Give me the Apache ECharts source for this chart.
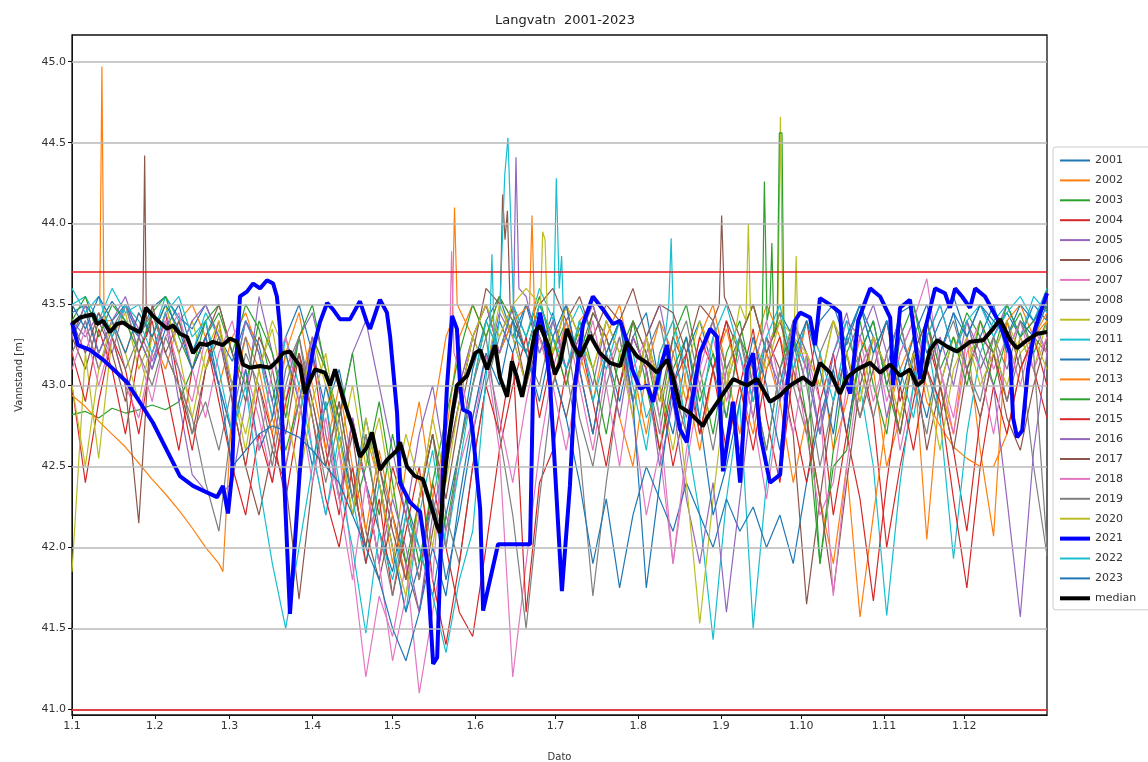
<!DOCTYPE html>
<html>
<head>
<meta charset="utf-8">
<title>Langvatn 2001-2023</title>
<script src="https://cdn.jsdelivr.net/npm/echarts@6/dist/echarts.min.js"></script>
<style>
  html, body { margin: 0; padding: 0; background: #fff; }
  #chart { width: 1148px; height: 762px; }
</style>
</head>
<body>
<div id="chart"></div>
<script>
// day of year (0 = 1 Jan), sampled every 5 days
const days = [0,5,10,15,20,25,30,35,40,45,50,55,60,65,70,75,80,85,90,95,
  100,105,110,115,120,125,130,135,140,145,150,155,160,165,170,175,180,185,190,195,
  200,205,210,215,220,225,230,235,240,245,250,255,260,265,270,275,280,285,290,295,
  300,305,310,315,320,325,330,335,340,345,350,355,360,365];

const years = ['2001','2002','2003','2004','2005','2006','2007','2008','2009','2011','2012',
  '2013','2014','2015','2016','2017','2018','2019','2020','2021','2022','2023'];

const monthStarts = [0,31,59,90,120,151,181,212,243,273,304,334];
const monthLabels = ['1.1','1.2','1.3','1.4','1.5','1.6','1.7','1.8','1.9','1.10','1.11','1.12'];
const yTicks = [41.0,41.5,42.0,42.5,43.0,43.5,44.0,44.5,45.0];
const limitLines = [43.7, 41.0];

const y2001 = [43.45,43.5,43.38,43.52,43.4,43.3,43.48,43.55,43.42,43.35,
  43.5,43.3,43.15,43.4,43.25,42.9,43.3,43.5,43.2,42.85,
  43.1,42.7,42.4,42.1,41.85,42.3,42.0,41.7,42.2,42.6,
  43.1,43.4,43.55,43.3,43.5,43.2,43.45,43.1,43.35,43.5,
  43.2,42.9,43.3,43.45,43.0,42.7,43.2,43.4,43.1,42.8,
  43.3,43.5,43.2,43.45,43.3,43.0,43.4,43.5,43.25,43.5,
  43.3,43.1,43.45,43.5,43.2,43.4,43.55,43.3,43.5,43.35,
  43.45,43.3,43.5,43.4];
const y2002 = [43.3,43.5,43.35,43.4,43.2,43.45,43.3,43.1,43.4,43.5,
  43.3,43.0,43.3,43.45,43.2,42.8,42.5,43.0,43.3,43.1,
  42.6,42.2,42.7,42.4,41.9,42.5,42.9,42.3,42.7,43.3,
  43.5,43.3,43.55,43.4,43.2,43.5,43.3,43.0,43.4,43.5,
  43.2,42.8,42.5,43.1,43.4,43.2,42.9,43.3,43.5,43.1,
  42.7,43.2,43.5,43.3,43.0,43.4,43.2,42.6,42.9,43.3,
  43.1,42.5,42.8,43.2,42.05,43.0,42.7,43.3,42.6,42.07,
  43.4,43.5,43.3,43.45];
const y2003 = [42.82,42.84,42.8,42.86,42.83,42.85,42.88,42.85,42.9,43.1,
  43.3,43.45,43.2,43.5,43.35,43.0,42.6,42.9,43.3,43.1,
  42.7,42.2,42.5,42.9,42.4,41.9,42.3,42.7,42.1,42.6,
  43.0,43.4,43.2,43.5,43.3,43.55,43.2,43.4,43.1,43.45,
  43.3,43.0,43.4,43.2,42.8,43.3,43.5,43.1,42.7,43.2,
  43.4,43.0,42.6,43.1,43.4,43.2,41.9,42.6,43.2,43.4,
  43.0,42.7,43.3,43.5,43.1,42.8,43.2,43.45,43.3,43.0,
  43.3,43.45,43.2,43.4];
const y2004 = [43.0,42.4,42.9,43.3,43.1,42.7,43.2,43.45,43.0,42.6,
  43.1,43.4,42.9,42.5,43.0,42.7,42.3,42.8,43.2,42.6,
  42.2,42.8,42.4,41.9,42.5,42.2,41.8,42.4,42.0,41.6,
  41.45,42.0,42.6,43.0,43.3,42.8,43.2,43.5,43.1,42.7,
  43.2,43.4,42.9,43.3,43.0,42.5,42.9,43.3,43.1,42.6,
  43.0,43.35,42.8,42.4,43.1,43.4,42.9,42.2,42.7,43.2,
  42.8,42.0,42.5,42.9,43.3,43.0,42.6,42.1,42.8,43.2,
  42.9,43.3,43.1,42.8];
const y2005 = [43.4,43.3,43.45,43.2,43.5,43.35,43.15,43.4,42.9,42.45,
  42.35,42.32,42.4,42.9,43.55,43.2,42.9,43.3,43.45,43.1,
  42.8,43.2,43.4,43.0,42.6,42.2,42.7,43.0,42.5,42.9,
  43.3,43.1,43.45,43.3,43.0,43.4,43.2,43.5,43.3,43.0,
  43.4,43.2,42.9,43.3,43.5,43.1,42.8,43.2,43.4,43.0,
  43.3,43.5,43.2,43.0,43.4,43.2,42.7,43.1,43.4,43.3,
  43.5,43.2,43.4,43.0,43.3,43.5,43.2,43.4,43.1,43.3,
  43.5,43.3,43.4,43.2];
const y2006 = [43.3,43.1,43.4,43.2,42.9,43.3,43.45,43.2,43.0,42.7,
  43.1,43.3,42.9,42.5,42.2,42.6,42.4,41.68,42.4,42.9,
  42.3,42.7,42.1,41.8,42.2,41.9,41.6,42.1,42.5,42.9,
  43.3,43.5,43.2,43.4,43.0,43.3,43.1,42.8,43.2,43.45,
  43.3,43.0,43.4,43.2,42.9,43.3,43.1,42.7,43.1,43.4,
  43.2,42.8,43.3,43.1,42.7,41.65,42.3,42.9,43.2,42.8,
  43.1,43.4,42.9,43.2,42.6,43.0,43.3,43.1,42.8,43.2,
  43.4,43.1,43.3,43.2];
const y2007 = [43.2,43.4,43.1,43.3,43.0,42.8,43.2,43.4,43.1,42.9,
  43.3,43.0,42.7,43.1,42.8,42.4,42.9,43.2,42.6,42.2,
  42.6,41.9,41.2,41.7,41.45,41.9,41.1,41.6,42.1,42.5,
  42.8,43.2,42.6,41.2,41.9,42.6,43.1,43.4,43.0,42.6,
  43.1,43.3,42.8,42.2,42.6,41.9,42.5,43.0,43.3,42.9,
  43.2,42.8,42.3,42.9,43.2,42.7,42.2,42.4,43.0,43.3,
  42.9,43.2,42.6,43.0,43.4,43.1,42.7,43.2,43.4,43.1,
  43.3,43.0,43.35,43.2];
const y2008 = [43.3,43.5,43.2,43.4,43.1,43.3,43.45,43.2,43.0,42.8,
  42.4,42.1,42.8,43.2,43.0,42.6,43.1,43.3,42.9,42.5,
  42.9,42.4,42.0,42.5,42.2,41.8,42.3,42.7,42.2,41.9,
  42.5,43.0,43.3,43.5,43.2,43.0,43.4,43.1,42.6,41.7,
  42.4,43.0,43.3,43.1,42.7,43.2,43.4,43.0,42.6,43.1,
  43.3,42.9,43.2,43.45,43.0,42.7,43.2,43.4,43.1,42.8,
  43.2,43.4,43.0,43.3,43.1,42.8,43.2,43.4,43.1,43.3,
  42.9,43.2,42.5,41.95];
const y2009 = [41.85,43.2,42.55,43.3,43.45,43.1,43.3,43.5,43.2,43.4,
  43.1,43.35,43.0,42.7,43.1,43.4,43.2,42.8,43.3,43.0,
  42.6,43.0,42.5,42.8,42.3,42.7,42.4,42.0,42.6,43.0,
  43.3,43.1,43.5,43.3,43.0,43.4,43.2,43.5,43.3,43.1,
  43.4,43.2,42.9,43.3,43.0,42.6,43.1,43.4,43.2,43.0,
  43.3,43.5,43.2,42.9,43.3,43.2,43.0,43.4,43.2,42.9,
  43.3,43.1,42.8,43.2,43.4,43.0,43.3,43.1,43.4,43.2,
  43.0,43.3,43.1,43.4];
const y2011 = [43.5,43.55,43.4,43.6,43.45,43.5,43.3,43.55,43.4,43.2,
  43.45,43.3,43.0,43.4,43.2,42.8,43.3,43.0,42.6,42.2,
  42.7,42.3,41.9,42.4,42.0,41.6,42.2,42.6,42.0,42.5,
  43.0,43.4,43.2,43.5,43.3,43.6,43.4,43.2,43.5,43.3,
  43.1,43.4,43.2,42.8,43.0,43.6,42.7,42.2,41.43,42.3,
  42.9,41.5,42.4,43.0,43.3,43.1,42.7,43.2,43.4,43.0,
  42.5,41.58,42.4,43.0,43.3,42.8,41.93,42.7,43.2,43.4,
  43.5,43.3,43.55,43.45];
const y2012 = [43.3,43.45,43.2,43.4,43.5,43.3,43.1,43.35,43.5,43.2,
  43.4,43.0,42.7,43.1,42.6,42.8,43.2,42.9,42.5,43.0,
  42.7,42.3,42.8,42.4,42.0,41.6,41.9,42.3,41.8,42.2,
  42.7,43.1,43.4,43.2,43.5,43.3,43.1,42.8,42.4,41.9,
  42.3,41.75,42.2,42.5,42.3,42.1,42.4,42.2,42.0,42.3,
  42.1,42.25,42.0,42.2,41.9,42.4,42.8,43.1,42.7,43.2,
  43.4,43.0,43.3,43.1,42.8,43.2,43.45,43.1,43.3,43.5,
  43.2,43.4,43.3,43.5];
const y2013 = [42.94,42.87,42.78,42.7,42.62,42.52,42.42,42.33,42.23,42.12,
  42.0,41.9,42.9,43.3,43.1,42.7,43.2,43.45,43.0,42.6,
  43.0,42.5,42.1,42.6,42.2,41.8,42.3,42.8,43.3,43.5,
  43.3,43.5,43.2,43.4,43.55,43.3,43.0,43.4,43.2,42.9,
  43.3,43.5,43.1,42.7,43.2,43.4,43.0,42.6,43.1,43.35,
  43.0,42.7,43.2,42.9,42.4,42.8,42.3,41.9,42.5,41.57,
  42.2,42.8,43.1,43.3,42.9,42.75,42.62,42.55,42.5,42.5,
  42.7,43.1,43.3,43.4];
const y2014 = [43.4,43.55,43.3,43.5,43.4,43.2,43.45,43.55,43.3,43.1,
  43.4,43.5,43.2,43.0,43.4,43.2,42.8,43.3,43.5,43.1,
  42.8,43.2,42.6,42.2,42.7,42.3,41.9,42.4,42.8,43.2,
  43.5,43.3,43.55,43.4,43.2,43.5,43.3,43.0,43.4,43.1,
  42.7,43.2,43.4,43.0,42.6,43.1,43.3,42.9,43.2,42.8,
  43.3,43.1,43.4,43.2,43.3,42.8,41.9,42.5,42.6,43.2,
  43.4,43.0,42.7,43.2,43.4,43.1,43.3,43.0,43.4,43.2,
  43.5,43.3,43.4,43.5];
const y2015 = [43.2,42.9,43.35,43.1,42.7,43.2,43.4,43.0,42.6,43.1,
  43.3,42.9,42.5,42.2,42.7,42.4,42.9,43.2,42.8,42.3,
  42.0,42.5,41.9,42.3,41.7,42.1,42.5,41.8,41.4,41.9,
  42.5,43.0,42.7,43.2,41.6,42.4,42.6,43.1,43.3,42.9,
  42.5,43.0,43.3,43.1,42.6,43.0,43.2,42.7,43.1,43.4,
  43.0,42.6,43.1,43.3,42.8,42.4,42.9,43.2,42.7,42.3,
  41.67,42.4,43.0,42.6,43.1,42.9,42.3,41.75,42.5,43.0,
  42.7,43.1,43.3,43.0];
const y2016 = [43.3,43.5,43.2,43.4,43.55,43.3,43.1,43.45,43.2,43.4,
  43.5,43.3,43.0,43.4,43.2,42.9,42.5,42.9,43.3,42.7,
  42.3,42.8,42.4,41.9,42.3,42.0,41.6,42.2,42.6,43.0,
  43.3,43.5,43.2,43.4,43.55,43.2,43.4,43.1,43.3,43.5,
  43.2,42.8,43.3,43.1,42.5,42.9,42.3,41.9,42.4,41.6,
  42.3,43.0,43.3,42.9,43.4,43.1,42.7,43.2,43.45,43.1,
  43.3,42.8,43.2,43.4,43.1,43.3,43.0,43.4,43.2,43.0,
  42.3,41.57,42.6,43.2];
const y2017 = [43.4,43.2,43.45,43.3,43.0,42.15,43.5,43.2,43.4,43.1,
  43.3,43.5,43.2,42.9,43.3,43.1,42.7,43.2,42.9,42.5,
  42.9,42.4,42.0,42.5,42.1,41.8,42.3,42.7,42.3,42.8,
  43.2,43.6,43.3,43.5,43.2,43.5,43.6,43.4,43.55,43.3,
  43.5,43.4,43.6,43.3,43.5,43.45,43.2,43.5,43.4,43.6,
  43.3,43.5,43.2,43.4,43.1,42.8,42.3,41.72,42.4,43.0,
  43.3,43.1,42.7,43.2,43.4,43.0,42.6,43.1,43.3,43.2,
  42.8,42.6,43.0,43.3];
const y2018 = [43.1,43.35,43.0,43.3,43.5,43.2,42.9,43.3,43.45,43.1,
  42.8,43.2,43.4,43.0,42.6,43.1,43.3,42.9,42.4,42.8,
  42.3,41.8,42.4,41.9,41.3,41.7,42.2,41.8,42.8,43.1,
  42.7,43.2,42.8,42.4,42.9,43.3,43.0,42.6,43.1,43.4,
  43.0,42.5,43.1,43.3,42.8,41.9,42.6,43.1,43.4,43.0,
  42.6,43.1,43.4,43.0,42.7,43.2,42.9,41.7,42.5,43.1,
  43.3,42.9,43.2,43.4,43.66,43.1,42.8,43.3,43.1,42.7,
  43.2,43.4,43.1,43.3];
const y2019 = [43.2,43.4,43.1,43.35,43.5,43.2,43.0,43.3,43.1,42.7,
  42.9,42.6,43.0,43.3,42.9,42.5,43.0,43.3,42.8,42.4,
  42.8,42.3,42.7,42.1,41.7,42.2,41.8,42.3,42.0,42.6,
  43.0,43.3,42.7,42.2,41.5,42.3,43.0,43.3,42.8,42.5,
  43.0,43.3,42.9,43.2,43.4,43.0,42.7,43.2,43.4,43.1,
  43.3,43.0,42.6,43.1,43.3,43.0,42.5,42.9,43.3,43.1,
  42.8,43.2,43.4,43.0,42.7,43.2,43.4,43.1,42.9,43.3,
  43.1,43.4,43.2,42.0];
const y2020 = [43.0,42.5,43.1,43.4,43.2,42.9,43.3,43.5,43.2,42.8,
  43.2,43.4,43.0,42.6,43.1,43.35,42.9,42.4,42.9,43.2,
  42.7,42.2,42.8,42.4,42.0,41.7,42.3,42.8,42.4,42.9,
  43.3,43.5,43.3,43.5,43.6,43.4,43.2,43.5,43.3,43.1,
  43.4,43.2,42.8,43.3,42.9,43.1,42.4,41.53,42.3,43.0,
  43.5,43.3,43.1,43.4,43.5,43.2,43.0,43.4,43.2,42.9,
  43.3,43.1,42.8,43.2,43.0,42.6,43.1,43.3,43.0,43.2,
  43.4,43.2,43.3,43.1];
const y2022 = [43.6,43.45,43.55,43.3,43.5,43.4,43.2,43.45,43.55,43.3,
  43.4,43.1,42.7,43.0,42.4,41.9,41.5,42.0,42.5,42.9,
  42.4,42.0,41.47,42.1,41.8,42.2,42.0,41.7,41.35,41.8,
  42.1,43.0,43.3,43.4,43.2,43.5,43.3,43.1,43.4,42.9,
  43.2,43.4,43.0,42.6,43.2,43.4,43.1,42.8,43.3,43.5,
  43.2,42.9,43.3,43.5,43.1,43.4,43.2,42.9,43.3,43.5,
  43.2,43.4,43.1,42.8,43.3,43.5,43.2,43.4,43.5,43.3,
  43.45,43.55,43.4,43.6];
const y2023 = [43.5,43.35,43.55,43.4,43.2,43.45,43.3,43.5,43.35,43.1,
  43.3,43.0,42.5,42.6,42.7,42.75,42.72,42.68,42.6,42.5,
  42.4,42.2,42.0,41.8,41.5,41.3,41.6,42.0,41.7,42.3,
  42.8,43.2,43.0,43.4,43.2,42.9,43.3,43.5,43.1,42.7,
  43.2,43.4,42.9,41.75,42.4,43.0,43.3,42.8,42.2,42.5,
  42.9,43.3,43.0,42.6,43.2,43.4,43.1,42.7,43.3,43.5,
  43.2,43.4,43.0,43.3,43.5,43.2,43.45,43.3,43.5,43.4,
  43.3,43.5,43.4,43.55];

// short spikes / dips between the 5-day samples: [day, level]
const extra2002 = [[10.4,43.5],[11.2,44.97],[12.0,43.4]];
const extra2006 = [[26.5,43.4],[27.2,44.42],[27.9,43.3]];
const extra2009 = [[264.2,43.4],[265.2,44.66],[266.2,43.3]];
const extra2011 = [[180.3,43.4],[181.3,44.28],[182.4,43.6],[183.3,43.8],[184.2,43.3],
  [223.4,43.5],[224.3,43.91],[225.3,43.3]];
const extra2013 = [[56.5,41.85],[142.3,43.4],[143.2,44.1],[144.2,43.5],
  [171.3,43.5],[172.2,44.05],[173.2,43.4]];
const extra2014 = [[258.3,43.3],[259.2,44.26],[260.2,43.4],[261.3,43.5],[262.0,43.88],[262.8,43.3],
  [264.0,43.4],[264.8,44.56],[265.8,44.56],[266.6,43.2]];
const extra2016 = [[165.3,43.5],[166.2,44.41],[167.3,43.6]];
const extra2017 = [[160.3,43.5],[161.2,44.18],[162.1,43.9],[163.0,44.08],[164.0,43.5],
  [242.3,43.5],[243.2,44.05],[244.2,43.55]];
const extra2018 = [[141.3,43.2],[142.1,43.83],[143.0,43.2]];
const extra2020 = [[175.4,43.5],[176.2,43.95],[177.1,43.9],[178.0,43.4],
  [252.3,43.4],[253.2,44.0],[254.2,43.3],[270.3,43.3],[271.1,43.8],[271.9,43.2]];
const extra2022 = [[156.3,43.3],[157.2,43.81],[158.2,43.2],[160.0,43.4],[162.0,44.3],
  [163.2,44.53],[164.5,43.9],[165.6,43.3]];

// 2021 is traced in more detail
const days2021 = [0,2.2,6.7,11.6,16.8,20.6,30.3,40.4,45.3,54.3,56.5,58.4,59.9,61,62.9,65.5,67.8,70.4,73,75.3,
  76.7,77.9,79,81.6,82.7,85.4,88,90.2,92.8,95.5,97.7,100.3,104.1,107.8,110.4,111.6,115.3,117.9,119.1,121.7,
  122.8,126.5,130.3,132.9,135.2,136.7,137.8,138.9,140.4,142.3,144.1,145.3,146.4,149,150.1,152.8,153.9,156.5,159.5,171.5,
  172.6,174.1,175.2,177.1,179,180.1,183.4,186.4,188.3,191.3,195,198.8,202.5,205.2,207.8,209.7,212.7,215.3,217.5,220.9,
  222.8,225,227.6,230.2,232.1,235.1,238.9,241.5,243.7,247.5,250.1,252.7,255,257.6,261.3,265.1,267.7,270.7,272.6,276.3,
  278.2,280,283.8,287.5,289.4,291.3,294.3,298.8,302.5,306.3,307.4,310,313.7,315.6,317.5,319.4,323.1,326.8,328.7,330.6,
  333.2,336.2,338.1,341.8,347.4,351.2,352.3,353.8,355.7,357.9,360.5,365];
const vals2021 = [43.39,43.25,43.22,43.16,43.08,43.02,42.77,42.44,42.38,42.31,42.38,42.21,42.45,43.0,43.55,43.58,43.63,43.6,43.65,43.63,
  43.55,43.35,42.58,41.59,41.85,42.5,43.0,43.22,43.39,43.51,43.47,43.41,43.41,43.52,43.39,43.35,43.53,43.45,43.3,42.83,
  42.4,42.28,42.22,41.91,41.28,41.32,41.85,42.5,43.0,43.43,43.35,43.0,42.85,42.83,42.7,42.24,41.61,41.8,42.02,42.02,
  43.0,43.35,43.45,43.3,43.0,42.69,41.73,42.38,43.0,43.38,43.55,43.47,43.38,43.4,43.27,43.1,42.98,43.0,42.9,43.15,
  43.25,42.95,42.73,42.65,42.9,43.2,43.35,43.3,42.47,42.9,42.4,43.1,43.2,42.7,42.4,42.45,43.0,43.4,43.45,43.42,
  43.25,43.54,43.5,43.45,43.05,42.95,43.4,43.6,43.55,43.42,43.0,43.48,43.53,43.28,43.04,43.35,43.6,43.57,43.48,43.6,
  43.55,43.48,43.6,43.55,43.38,43.2,42.8,42.68,42.72,43.1,43.35,43.57];

const daysMedian = [0,3,7.9,9.4,11.6,14.2,16.8,19.1,21.7,25.5,27.7,30.3,32.9,35.6,37.8,40.4,43.1,45.3,47.9,50.5,
  52.8,56.5,59.2,61.8,64,66.6,70.4,74.1,76.7,79,81.6,82.7,85.4,87.2,89.1,91,94.7,96.6,98.5,101.5,
  105.2,107.8,110.4,112.3,115.3,117.9,121.7,122.8,125.4,128.4,131.4,134,136.7,137.8,138.9,140.8,142.6,144.1,147.9,150.9,
  152.8,155.4,158.4,160.2,162.9,164.7,166.6,168.5,171.5,173.3,175.2,178.2,180.8,182.7,185.3,187.6,190.2,193.9,197.7,201.4,
  205.2,207.8,211.5,215.3,219,222.8,225,227.6,231.4,236.2,237.7,242.6,247.5,252.7,256.5,261.3,265.1,268.8,273.7,277.4,
  280,283.8,287.5,290.2,293.9,298.8,302.5,306.3,310,313.7,316.4,318.6,321.2,323.9,327.6,331.3,336.2,341.1,344.8,347.4,
  351.2,353.8,357.5,361.3,365];
const valsMedian = [43.38,43.42,43.44,43.38,43.4,43.33,43.38,43.39,43.36,43.33,43.48,43.43,43.39,43.35,43.37,43.32,43.3,43.2,43.26,43.25,
  43.27,43.25,43.29,43.27,43.13,43.11,43.12,43.11,43.15,43.2,43.21,43.18,43.12,42.95,43.03,43.1,43.08,43.0,43.1,42.92,
  42.73,42.56,42.62,42.71,42.48,42.54,42.6,42.65,42.5,42.44,42.42,42.28,42.13,42.09,42.35,42.64,42.85,43.0,43.06,43.2,
  43.22,43.1,43.25,43.05,42.93,43.15,43.05,42.93,43.17,43.33,43.37,43.25,43.07,43.14,43.35,43.25,43.18,43.31,43.2,43.14,
  43.12,43.27,43.18,43.14,43.08,43.16,43.05,42.87,42.83,42.75,42.8,42.92,43.04,43.0,43.04,42.9,42.94,43.0,43.05,43.0,
  43.14,43.08,42.95,43.05,43.1,43.14,43.08,43.13,43.06,43.1,43.0,43.03,43.22,43.28,43.24,43.21,43.27,43.28,43.35,43.41,
  43.28,43.23,43.28,43.32,43.33];

const yearly = {
  '2001': [y2001, []], '2002': [y2002, extra2002], '2003': [y2003, []], '2004': [y2004, []],
  '2005': [y2005, []], '2006': [y2006, extra2006], '2007': [y2007, []], '2008': [y2008, []],
  '2009': [y2009, extra2009], '2011': [y2011, extra2011], '2012': [y2012, []], '2013': [y2013, extra2013],
  '2014': [y2014, extra2014], '2015': [y2015, []], '2016': [y2016, extra2016], '2017': [y2017, extra2017],
  '2018': [y2018, extra2018], '2019': [y2019, []], '2020': [y2020, extra2020], '2022': [y2022, extra2022],
  '2023': [y2023, []]
};

// matplotlib tab10 cycle; 2021 has its own colour and does not advance the cycle
const yearColors = ['#1f77b4','#ff7f0e','#2ca02c','#d62728','#9467bd','#8c564b','#e377c2','#7f7f7f','#bcbd22','#17becf',
  '#1f77b4','#ff7f0e','#2ca02c','#d62728','#9467bd','#8c564b','#e377c2','#7f7f7f','#bcbd22','#0000ff','#17becf','#1f77b4'];

function merge(vals, extra) {
  const pts = days.map((d, i) => [d, vals[i]])
    .filter(p => !extra.some(e => Math.abs(e[0] - p[0]) < 1.5));
  return pts.concat(extra).sort((a, b) => a[0] - b[0]);
}

const font = 'DejaVu Sans';
let series = [];

// grid lines
series.push({
  name: 'grid', type: 'line', data: [[0, 43]], symbol: 'none', silent: true, z: 1,
  lineStyle: { opacity: 0 },
  markLine: {
    symbol: ['none', 'none'], silent: true, label: { show: false }, animation: false,
    lineStyle: { color: '#b8b8b8', width: 1.5, type: 'solid' },
    data: yTicks.map(v => ({ yAxis: v }))
  }
});

years.forEach((y, i) => {
  let data, width = 1.2;
  if (y === '2021') {
    data = days2021.map((d, k) => [d, vals2021[k]]);
    width = 4;
  } else {
    data = merge(yearly[y][0], yearly[y][1]);
  }
  series.push({
    name: y, type: 'line', data: data, symbol: 'none', showSymbol: false,
    color: yearColors[i],
    lineStyle: { width: width, color: yearColors[i] },
    emphasis: { disabled: true }, animation: false, z: y === '2021' ? 4 : 3
  });
});

series.push({
  name: 'median', type: 'line', data: daysMedian.map((d, k) => [d, valsMedian[k]]),
  symbol: 'none', showSymbol: false, color: '#000',
  lineStyle: { width: 4, color: '#000' }, emphasis: { disabled: true }, animation: false, z: 5,
  markLine: {
    symbol: ['none', 'none'], silent: true, label: { show: false }, animation: false,
    lineStyle: { color: '#e8141c', width: 1.5, type: 'solid' },
    data: limitLines.map(v => ({ yAxis: v }))
  }
});

const legendItems = years.concat(['median']).map(n => (
  (n === '2021' || n === 'median') ? { name: n, lineStyle: { width: 4 } } : { name: n }
));

const chart = echarts.init(document.getElementById('chart'));
const option = {
  animation: false,
  backgroundColor: '#fff',
  textStyle: { fontFamily: font },
  title: {
    text: 'Langvatn  2001-2023', left: 560, top: 9, textAlign: 'center',
    textStyle: { fontFamily: font, fontSize: 13, fontWeight: 'normal', color: '#222' }
  },
  grid: {
    left: 72, right: 101, top: 35, bottom: 47, outerBoundsMode: 'none', containLabel: false,
    show: true, borderColor: '#111', borderWidth: 1.3, backgroundColor: 'transparent'
  },
  legend: {
    data: legendItems, orient: 'vertical', left: 1053, top: 147,
    itemWidth: 30, itemHeight: 10, itemGap: 8.9, padding: [8, 30, 6, 5],
    borderColor: '#ccc', borderWidth: 1, borderRadius: 3,
    itemStyle: { opacity: 0 },
    textStyle: { fontFamily: font, fontSize: 11, color: '#333' }, selectedMode: false
  },
  xAxis: {
    type: 'value', min: 0, max: 365,
    name: 'Dato', nameLocation: 'middle', nameGap: 37,
    nameTextStyle: { fontFamily: font, fontSize: 10, color: '#333' },
    axisLine: { show: true, lineStyle: { color: '#111' } },
    axisTick: { show: true, length: 4, customValues: monthStarts, lineStyle: { color: '#111' } },
    axisLabel: {
      customValues: monthStarts, fontSize: 11, color: '#333', margin: 6, fontFamily: font,
      formatter: v => monthLabels[monthStarts.indexOf(v)]
    },
    splitLine: { show: false }
  },
  yAxis: {
    type: 'value', min: 40.965, max: 45.165,
    name: 'Vannstand [m]', nameLocation: 'middle', nameGap: 48, nameRotate: 90,
    nameTextStyle: { fontFamily: font, fontSize: 10, color: '#333' },
    axisLine: { show: true, lineStyle: { color: '#111' } },
    axisTick: { show: true, length: 4, customValues: yTicks, lineStyle: { color: '#111' } },
    axisLabel: {
      customValues: yTicks, fontSize: 11, color: '#333', margin: 6, fontFamily: font,
      formatter: v => v.toFixed(1)
    },
    splitLine: { show: false }
  },
  series: series
};
chart.setOption(option);
</script>
</body>
</html>
